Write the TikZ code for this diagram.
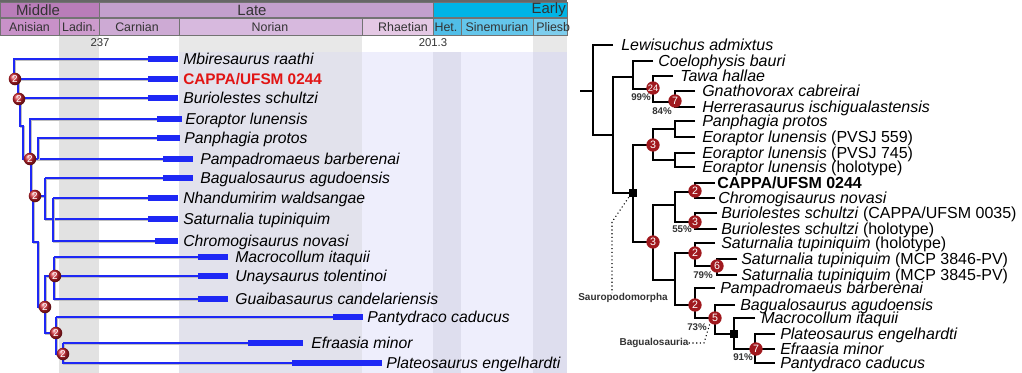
\documentclass[tikz,border=0pt]{standalone}
\usepackage{fontspec}
\setmainfont{Liberation Sans}
\definecolor{treeblue}{RGB}{30,40,245}
\definecolor{lbred}{RGB}{205,35,45}
\definecolor{rbred}{RGB}{160,25,30}
\definecolor{cMid}{RGB}{185,125,185}
\definecolor{cLate}{RGB}{195,160,205}
\definecolor{cEarly}{RGB}{0,180,230}
\definecolor{cAni}{RGB}{200,145,200}
\definecolor{cLad}{RGB}{205,155,205}
\definecolor{cCar}{RGB}{205,170,212}
\definecolor{cNor}{RGB}{215,185,222}
\definecolor{cRha}{RGB}{228,200,228}
\definecolor{cHet}{RGB}{80,190,232}
\definecolor{cSin}{RGB}{100,198,235}
\definecolor{cPli}{RGB}{125,205,237}
\definecolor{bGray}{RGB}{226,226,226}
\definecolor{bNorA}{RGB}{232,232,232}
\definecolor{bNor}{RGB}{226,226,236}
\definecolor{bLav}{RGB}{238,238,252}
\definecolor{bDk}{RGB}{222,222,238}
\definecolor{capred}{RGB}{225,20,20}
\newcommand\bp[1]{\draw[sline] #1; \draw[bline] #1;}
\begin{document}
\begin{tikzpicture}[x=0.75pt,y=-0.75pt,
  lt/.style={anchor=base west, inner sep=0pt, font=\fontsize{11.8}{13}\selectfont\itshape},
  rt/.style={anchor=base west, inner sep=0pt, font=\fontsize{12}{13}\selectfont},
  hb/.style={draw=black!55, line width=0.6pt},
  h1/.style={font=\fontsize{11.2}{12}\selectfont, text=black!80, inner sep=0pt},
  h2/.style={font=\fontsize{9.3}{10}\selectfont, text=black!80, inner sep=0pt},
  agelab/.style={font=\fontsize{8.5}{9}\selectfont, text=black!80, inner sep=0pt},
  bline/.style={draw=treeblue, line width=1.3pt},
  sline/.style={draw=black!25, line width=1.3pt, transform canvas={shift={(0.8pt,-0.8pt)}}},
  bar/.style={draw=treeblue, line width=4pt},
  kline/.style={draw=black, line width=1.4pt},
  lbadge/.style={circle, shading=ball, ball color=lbred, inner sep=0pt, minimum size=9.4pt, text=white, font=\fontsize{7.5}{8}\selectfont},
  rbadge/.style={circle, fill=rbred, inner sep=0pt, minimum size=10pt, text=white, font=\fontsize{8}{8}\selectfont},
  sq/.style={fill=black, inner sep=0pt, minimum size=6pt},
  pct/.style={font=\fontsize{7.3}{8}\selectfont\bfseries, text=black!80, inner sep=0pt},
  clade/.style={font=\fontsize{7.5}{8}\selectfont\bfseries, text=black!80, inner sep=0pt},
  dots/.style={draw=black, line width=0.8pt, dotted}
]
\useasboundingbox (0,0) rectangle (1022,373);
\fill[white] (0,0) rectangle (1022,373);
% ---------- left panel background ----------
\fill[bGray] (59,35) rectangle (99,373);
\fill[bNorA] (179,35) rectangle (362,52);
\fill[bNor] (179,52) rectangle (362,373);
\fill[bLav] (362,52) rectangle (433,373);
\fill[bDk] (433,52) rectangle (461,373);
\fill[bLav] (461,52) rectangle (533,373);
\fill[bDk] (533,52) rectangle (567,373);
\fill[bNorA] (533,35) rectangle (567,52);
% ---------- header ----------
\fill[black!60] (0,0) rectangle (567,2.5);
\filldraw[hb, fill=cMid] (0,2.5) rectangle (99,17);
\filldraw[hb, fill=cLate] (99,2.5) rectangle (433,17);
\filldraw[hb, fill=cEarly] (433,2.5) rectangle (567,17);
\filldraw[hb, fill=cAni] (0,18.5) rectangle (59,35);
\filldraw[hb, fill=cLad] (59,18.5) rectangle (99,35);
\filldraw[hb, fill=cCar] (99,18.5) rectangle (179,35);
\filldraw[hb, fill=cNor] (179,18.5) rectangle (362,35);
\filldraw[hb, fill=cRha] (362,18.5) rectangle (433,35);
\filldraw[hb, fill=cHet] (433,18.5) rectangle (461,35);
\filldraw[hb, fill=cSin] (461,18.5) rectangle (533,35);
\filldraw[hb, fill=cPli] (533,18.5) rectangle (567,35);
\node[h1] (hMid) at (38,10) {Middle};
\node[h1] (hLate) at (252,10) {Late};
\node[h1, anchor=east] (hEarly) at (566,10) {Early};
\node[h2] (sAni) at (29.5,27) {Anisian};
\node[h2] (sLad) at (79,27) {Ladin.};
\node[h2] (sCar) at (137,27) {Carnian};
\node[h2] (sNor) at (270,27) {Norian};
\node[h2] (sRha) at (403,27) {Rhaetian};
\node[h2] (sHet) at (446,27) {Het.};
\node[h2] (sSin) at (497,27) {Sinemurian};
\node[h2, anchor=west] (sPli) at (536,27) {Pliesb};
\node[agelab] (a237) at (100,43) {237};
\node[agelab] (a201) at (433,43) {201.3};
% ---------- left tree ----------
\bp{(14,79) -- (14,59) -- (148,59)}
\bp{(14,79) -- (148,79)}
\bp{(18,79) -- (18,98) -- (148,98)}
\bp{(20,98) -- (20,126) -- (23,126) -- (23,159) -- (163,159)}
\bp{(30,159) -- (30,119) -- (157,119)}
\bp{(38,159) -- (38,138) -- (157,138)}
\bp{(31,159) -- (31,196) -- (45,196)}
\bp{(45,178) -- (163,178)}
\bp{(45,178) -- (45,219) -- (148,219)}
\bp{(53,198) -- (148,198)}
\bp{(53,198) -- (53,241) -- (155,241)}
\bp{(33,196) -- (33,242) -- (38,242) -- (38,307) -- (45,307)}
\bp{(54,276) -- (45,276) -- (45,333) -- (56,333)}
\bp{(54,257) -- (198,257)}
\bp{(54,257) -- (54,299) -- (198,299)}
\bp{(54,276) -- (198,276)}
\bp{(56,317) -- (333,317)}
\bp{(56,317) -- (56,354) -- (63,354)}
\bp{(63,343) -- (248,343)}
\bp{(63,343) -- (63,363) -- (292,363)}
\foreach \a/\b/\y in {148/178/59,148/178/79,148/178/98,157/182/119,157/180/138,163/193/159,163/193/178,148/178/198,148/178/219,155/178/241,198/228/257,198/228/276,198/228/299,333/363/317,248/303/343,292/382/363}
  {\draw[bar] (\a,\y) -- (\b,\y);}
\node[lt] (lMbi) at (183,64.5) {Mbiresaurus raathi};
\node[lt, font=\fontsize{11.5}{13}\selectfont\bfseries, text=capred] (lCap) at (183,84.5) {CAPPA/UFSM 0244};
\node[lt] (lBur) at (183,103.5) {Buriolestes schultzi};
\node[lt] (lEor) at (185,124.5) {Eoraptor lunensis};
\node[lt] (lPan) at (184,143.5) {Panphagia protos};
\node[lt] (lPam) at (200,164.5) {Pampadromaeus barberenai};
\node[lt] (lBag) at (200,183.5) {Bagualosaurus agudoensis};
\node[lt] (lNha) at (183,203.5) {Nhandumirim waldsangae};
\node[lt] (lSat) at (183,224.5) {Saturnalia tupiniquim};
\node[lt] (lChr) at (183,246.5) {Chromogisaurus novasi};
\node[lt] (lMac) at (235,262.5) {Macrocollum itaquii};
\node[lt] (lUna) at (235,281.5) {Unaysaurus tolentinoi};
\node[lt] (lGua) at (235,304.5) {Guaibasaurus candelariensis};
\node[lt] (lPty) at (367,322.5) {Pantydraco caducus};
\node[lt] (lEfr) at (311,348.5) {Efraasia minor};
\node[lt] (lPla) at (386,368.5) {Plateosaurus engelhardti};
\foreach \n/\x/\y in {1/15/79,2/19/99,3/30/159,4/35/196,5/45/307,6/55/276,7/56/333,8/63/354}
  {\node[lbadge] (lb\n) at (\x,\y) {2};}
% ---------- right tree ----------
\draw[kline] (580,91) -- (593,91);
\draw[kline] (613,45) -- (593,45) -- (593,135) -- (613,135);
\draw[kline] (633,77) -- (613,77) -- (613,193) -- (633,193);
\draw[kline] (653,61) -- (633,61) -- (633,89) -- (653,89);
\draw[kline] (673,76) -- (653,76) -- (653,102) -- (675,102);
\draw[kline] (695,91) -- (675,91) -- (675,107) -- (695,107);
\draw[kline] (653,145) -- (633,145) -- (633,242) -- (653,242);
\draw[kline] (675,129) -- (653,129) -- (653,160) -- (675,160);
\draw[kline] (695,121) -- (675,121) -- (675,137) -- (695,137);
\draw[kline] (695,153) -- (675,153) -- (675,167) -- (695,167);
\draw[kline] (675,205) -- (653,205) -- (653,280) -- (675,280);
\draw[kline] (695,192) -- (675,192) -- (675,222) -- (695,222);
\draw[kline] (715,183) -- (695,183) -- (695,198) -- (715,198);
\draw[kline] (717,213) -- (695,213) -- (695,229) -- (717,229);
\draw[kline] (695,253) -- (675,253) -- (675,305) -- (695,305);
\draw[kline] (715,243) -- (695,243) -- (695,266) -- (717,266);
\draw[kline] (737,259) -- (717,259) -- (717,275) -- (737,275);
\draw[kline] (715,288) -- (695,288) -- (695,318) -- (715,318);
\draw[kline] (735,305) -- (715,305) -- (715,334) -- (734,334);
\draw[kline] (755,318) -- (734,318) -- (734,349) -- (755,349);
\draw[kline] (775,334) -- (755,334) -- (755,363) -- (775,363);
\draw[kline] (755,349) -- (775,349);
\node[sq] (sqS) at (633,193) {};
\node[sq] (sqB) at (734,334) {};
\node[rbadge, font=\fontsize{7}{7}\selectfont] (rb1) at (653,88) {24};
\node[rbadge] (rb2) at (675,101) {7};
\node[rbadge] (rb3) at (653,145) {3};
\node[rbadge] (rb4) at (653,242) {3};
\node[rbadge] (rb5) at (695,191) {2};
\node[rbadge] (rb6) at (695,222) {3};
\node[rbadge] (rb7) at (695,253) {2};
\node[rbadge] (rb8) at (717,266) {6};
\node[rbadge] (rb9) at (695,305) {2};
\node[rbadge] (rb10) at (715,318) {5};
\node[rbadge] (rb11) at (756,349) {7};
\node[pct] (p99) at (641,97) {99\%};
\node[pct] (p84) at (662,111) {84\%};
\node[pct] (p55) at (682,229) {55\%};
\node[pct] (p79) at (703,275) {79\%};
\node[pct] (p73) at (697,327) {73\%};
\node[pct] (p91) at (743,357) {91\%};
\node[clade] (cSau) at (623,298) {Sauropodomorpha};
\node[clade] (cBag) at (654,343) {Bagualosauria};
\coordinate (dS1) at (612,222);
\coordinate (dB1) at (704,343);
\draw[dots] (sqS.south west) -- (dS1) -- (cSau.north -| dS1);
\draw[dots] (cBag.east) -- (dB1) -- (rb10.south west);
\node[rt] (rLew) at (621,51) {\textit{Lewisuchus admixtus}};
\node[rt] (rCoe) at (658,67) {\textit{Coelophysis bauri}};
\node[rt] (rTaw) at (680,82) {\textit{Tawa hallae}};
\node[rt] (rGna) at (702,97) {\textit{Gnathovorax cabreirai}};
\node[rt] (rHer) at (702,113) {\textit{Herrerasaurus ischigualastensis}};
\node[rt] (rPan) at (702,127) {\textit{Panphagia protos}};
\node[rt] (rEo1) at (702,143) {\textit{Eoraptor lunensis} (PVSJ 559)};
\node[rt] (rEo2) at (702,159) {\textit{Eoraptor lunensis} (PVSJ 745)};
\node[rt] (rEo3) at (702,173) {\textit{Eoraptor lunensis} (holotype)};
\node[rt, font=\fontsize{12}{13}\selectfont\bfseries] (rCap) at (717,189) {CAPPA/UFSM 0244};
\node[rt] (rChr) at (718,204) {\textit{Chromogisaurus novasi}};
\node[rt] (rBu1) at (721,219) {\textit{Buriolestes schultzi} (CAPPA/UFSM 0035)};
\node[rt] (rBu2) at (721,235) {\textit{Buriolestes schultzi} (holotype)};
\node[rt] (rSa1) at (721,249) {\textit{Saturnalia tupiniquim} (holotype)};
\node[rt] (rSa2) at (741,265) {\textit{Saturnalia tupiniquim} (MCP 3846-PV)};
\node[rt] (rSa3) at (741,281) {\textit{Saturnalia tupiniquim} (MCP 3845-PV)};
\node[rt] (rPam) at (720,294) {\textit{Pampadromaeus barberenai}};
\node[rt] (rBag) at (740,311) {\textit{Bagualosaurus agudoensis}};
\node[rt] (rMac) at (761,324) {\textit{Macrocollum itaquii}};
\node[rt] (rPla) at (780,340) {\textit{Plateosaurus engelhardti}};
\node[rt] (rEfr) at (780,355) {\textit{Efraasia minor}};
\node[rt] (rPty) at (780,369) {\textit{Pantydraco caducus}};
\end{tikzpicture}
\end{document}
